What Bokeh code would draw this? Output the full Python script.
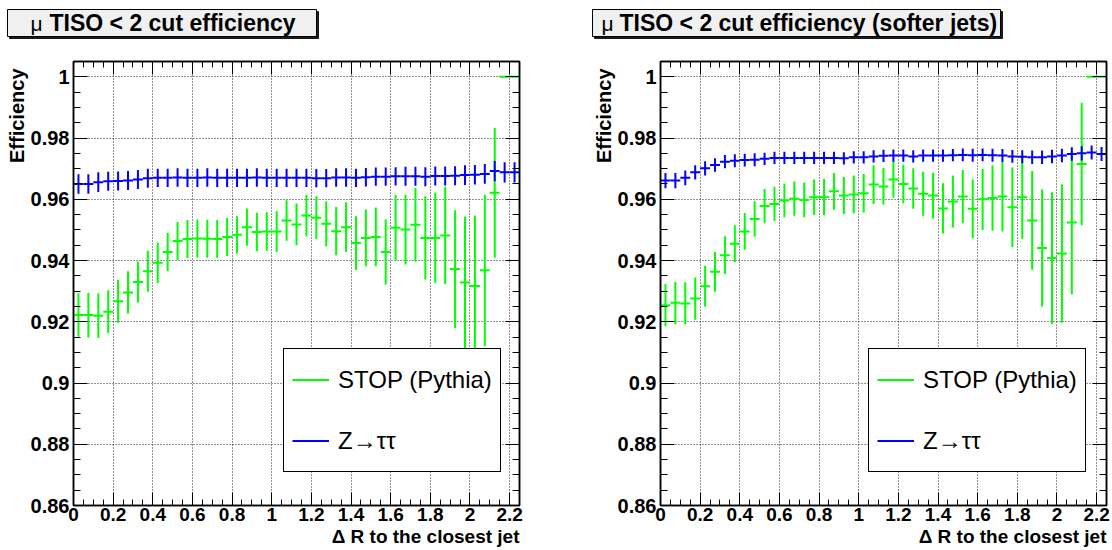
from bokeh.plotting import figure
from bokeh.layouts import row, column
from bokeh.models import (Range1d, FixedTicker, LinearAxis, CustomJSTickFormatter, Title,
                          Legend, LegendItem, ColumnDataSource)
from bokeh.core.properties import value
from bokeh.embed import file_html
from bokeh.resources import INLINE

# ---------------- data ----------------
bin_centers = [0.025, 0.075, 0.125, 0.175, 0.225, 0.275, 0.325, 0.375, 0.425, 0.475,
               0.525, 0.575, 0.625, 0.675, 0.725, 0.775, 0.825, 0.875, 0.925, 0.975,
               1.025, 1.075, 1.125, 1.175, 1.225, 1.275, 1.325, 1.375, 1.425, 1.475,
               1.525, 1.575, 1.625, 1.675, 1.725, 1.775, 1.825, 1.875, 1.925, 1.975,
               2.025, 2.075, 2.125, 2.175, 2.225]
bin_half_width = 0.025

left_stop_eff = [0.9222, 0.9222, 0.9220, 0.9233, 0.9267, 0.9296, 0.9330, 0.9365, 0.9393, 0.9428,
                 0.9464, 0.9470, 0.9472, 0.9471, 0.9470, 0.9477, 0.9484, 0.9509, 0.9493, 0.9495,
                 0.9495, 0.9531, 0.9518, 0.9547, 0.9540, 0.9520, 0.9496, 0.9509, 0.9457, 0.9474,
                 0.9477, 0.9428, 0.9507, 0.9501, 0.9517, 0.9474, 0.9474, 0.9482, 0.9372, 0.9328,
                 0.9317, 0.9368, 0.9621, 1.0, 1.0]
left_stop_err = [0.0071, 0.0073, 0.0073, 0.0070, 0.0070, 0.0069, 0.0067, 0.0067, 0.0066, 0.0063,
                 0.0062, 0.0062, 0.0062, 0.0062, 0.0062, 0.0062, 0.0061, 0.0061, 0.0063, 0.0063,
                 0.0067, 0.0066, 0.0068, 0.0068, 0.0070, 0.0074, 0.0079, 0.0081, 0.0088, 0.0093,
                 0.0096, 0.0106, 0.0107, 0.0114, 0.0121, 0.0136, 0.0147, 0.0159, 0.0192, 0.0216,
                 0.0230, 0.0247, 0.0212, 0.0, 0.0]
left_ztt_eff = [0.9650, 0.9650, 0.9656, 0.9659, 0.9660, 0.9661, 0.9665, 0.9669, 0.9670, 0.9670,
                0.9671, 0.9670, 0.9670, 0.9671, 0.9670, 0.9670, 0.9670, 0.9670, 0.9671, 0.9670,
                0.9670, 0.9670, 0.9670, 0.9670, 0.9669, 0.9669, 0.9671, 0.9671, 0.9670, 0.9672,
                0.9674, 0.9674, 0.9675, 0.9675, 0.9675, 0.9674, 0.9676, 0.9676, 0.9677, 0.9679,
                0.9680, 0.9683, 0.9692, 0.9688, 0.9688]
left_ztt_err = [0.0032, 0.0032, 0.0032, 0.0031, 0.0031, 0.0031, 0.0031, 0.0031, 0.0030, 0.0030,
                0.0030, 0.0030, 0.0030, 0.0030, 0.0030, 0.0030, 0.0030, 0.0030, 0.0030, 0.0030,
                0.0030, 0.0030, 0.0030, 0.0030, 0.0030, 0.0030, 0.0030, 0.0030, 0.0030, 0.0030,
                0.0030, 0.0030, 0.0030, 0.0031, 0.0031, 0.0031, 0.0031, 0.0031, 0.0031, 0.0032,
                0.0032, 0.0032, 0.0033, 0.0033, 0.0033]

right_stop_eff = [0.9254, 0.9262, 0.9260, 0.9276, 0.9316, 0.9363, 0.9417, 0.9455, 0.9495, 0.9536,
                  0.9578, 0.9585, 0.9596, 0.9602, 0.9598, 0.9607, 0.9607, 0.9626, 0.9612, 0.9616,
                  0.9620, 0.9648, 0.9642, 0.9665, 0.9650, 0.9635, 0.9618, 0.9612, 0.9570, 0.9593,
                  0.9609, 0.9569, 0.9600, 0.9604, 0.9609, 0.9574, 0.9607, 0.9531, 0.9441, 0.9408,
                  0.9423, 0.9524, 0.9715, 1.0, 1.0]
right_stop_err = [0.0069, 0.0069, 0.0069, 0.0069, 0.0067, 0.0065, 0.0062, 0.0060, 0.0060, 0.0058,
                  0.0056, 0.0056, 0.0055, 0.0056, 0.0057, 0.0058, 0.0059, 0.0060, 0.0061, 0.0062,
                  0.0063, 0.0063, 0.0060, 0.0060, 0.0063, 0.0066, 0.0072, 0.0075, 0.0082, 0.0085,
                  0.0087, 0.0096, 0.0100, 0.0107, 0.0114, 0.0130, 0.0136, 0.0161, 0.0191, 0.0215,
                  0.0226, 0.0234, 0.0200, 0.0, 0.0]
right_ztt_eff = [0.9661, 0.9661, 0.9670, 0.9688, 0.9701, 0.9712, 0.9723, 0.9726, 0.9728, 0.9729,
                 0.9732, 0.9735, 0.9735, 0.9735, 0.9735, 0.9735, 0.9735, 0.9735, 0.9734, 0.9737,
                 0.9737, 0.9740, 0.9742, 0.9743, 0.9743, 0.9740, 0.9743, 0.9743, 0.9743, 0.9744,
                 0.9745, 0.9744, 0.9745, 0.9744, 0.9743, 0.9740, 0.9739, 0.9737, 0.9737, 0.9740,
                 0.9743, 0.9748, 0.9750, 0.9753, 0.9748]
right_ztt_err = [0.0025, 0.0025, 0.0024, 0.0023, 0.0023, 0.0022, 0.0022, 0.0021, 0.0021, 0.0021,
                 0.0020, 0.0020, 0.0020, 0.0020, 0.0020, 0.0020, 0.0020, 0.0020, 0.0020, 0.0020,
                 0.0020, 0.0020, 0.0020, 0.0020, 0.0020, 0.0020, 0.0020, 0.0020, 0.0020, 0.0020,
                 0.0021, 0.0021, 0.0021, 0.0021, 0.0021, 0.0021, 0.0021, 0.0022, 0.0022, 0.0022,
                 0.0022, 0.0022, 0.0023, 0.0023, 0.0023]

x_major_ticks = [0.0, 0.2, 0.4, 0.6, 0.8, 1.0, 1.2, 1.4, 1.6, 1.8, 2.0, 2.2]
y_major_ticks = [0.86, 0.88, 0.90, 0.92, 0.94, 0.96, 0.98, 1.0]
x_minor_ticks = [round(0.05 * i, 3) for i in range(46)]
y_minor_ticks = [round(0.86 + 0.005 * i, 4) for i in range(30)]

series_labels = ["STOP (Pythia)", "Z\u2192\u03c4\u03c4"]
title_prefix = "\u03bc"
left_title = "TISO < 2 cut efficiency"
right_title = "TISO < 2 cut efficiency (softer jets)"
x_title = "\u0394 R to the closest jet"
y_title = "Efficiency"

GREEN = "#00ff00"
BLUE = "#0000ff"
FONT = "Liberation Sans"
STRIP_H = 45


def err_source(eff, err):
    return ColumnDataSource(dict(
        x=bin_centers,
        x0=[c - bin_half_width for c in bin_centers],
        x1=[c + bin_half_width for c in bin_centers],
        y=eff,
        ylo=[e - d for e, d in zip(eff, err)],
        yhi=[e + d for e, d in zip(eff, err)],
    ))


def make_title_strip(text, box_left, box_right, mu_x, text_x):
    # pixel-space strip holding the ROOT-style boxed title
    t = figure(width=556, height=STRIP_H, x_range=Range1d(0, 556), y_range=Range1d(0, STRIP_H),
               output_backend="svg", toolbar_location=None,
               x_axis_location=None, y_axis_location=None,
               min_border_left=0, min_border_right=0, min_border_top=0, min_border_bottom=0)
    t.outline_line_color = None
    t.grid.visible = False
    t.background_fill_color = "white"
    t.border_fill_color = "white"
    top, bottom = STRIP_H - 9, STRIP_H - 36
    t.quad(left=[box_left + 2], right=[box_right + 2], top=[top - 2], bottom=[bottom - 2],
           fill_color="#1a1a1a", line_color="#1a1a1a")
    t.quad(left=[box_left], right=[box_right], top=[top], bottom=[bottom],
           fill_color="#f0f0f0", line_color="black", line_width=1)
    ymid = STRIP_H - 22.5
    t.text(x=[mu_x], y=[ymid], text=[title_prefix],
           text_font=value(FONT), text_font_style="normal", text_font_size="21px",
           text_align="left", text_baseline="middle", text_color="black")
    t.text(x=[text_x], y=[ymid], text=[text],
           text_font=value(FONT), text_font_style="bold", text_font_size="23px",
           text_align="left", text_baseline="middle", text_color="black")
    return t


def make_panel(stop_eff, stop_err, ztt_eff, ztt_err, border_left, border_right, legend_x):
    p = figure(width=556, height=550 - STRIP_H, x_range=Range1d(0, 2.25),
               y_range=Range1d(0.86, 1.005),
               output_backend="svg", toolbar_location=None,
               min_border_left=border_left, min_border_right=border_right,
               min_border_top=61 - STRIP_H, min_border_bottom=45)
    p.background_fill_color = "white"
    p.border_fill_color = "white"
    p.outline_line_color = "black"
    p.outline_line_width = 1.5

    xticker = FixedTicker(ticks=x_major_ticks, minor_ticks=x_minor_ticks)
    yticker = FixedTicker(ticks=y_major_ticks, minor_ticks=y_minor_ticks)
    fmt = CustomJSTickFormatter(code="return String(Math.round(tick*1000)/1000);")

    for ax, tk, tin, tmin in ((p.xaxis[0], xticker, 13, 6), (p.yaxis[0], yticker, 14, 7)):
        ax.ticker = tk
        ax.formatter = fmt
        ax.major_tick_in = tin
        ax.major_tick_out = 0
        ax.minor_tick_in = tmin
        ax.minor_tick_out = 0
        ax.major_tick_line_color = "black"
        ax.minor_tick_line_color = "black"
        ax.axis_line_color = "black"
        ax.axis_line_width = 1.5
        ax.major_label_text_font = FONT
        ax.major_label_text_font_style = "bold"
        ax.major_label_text_color = "black"
    p.xaxis[0].major_label_text_font_size = "19px"
    p.yaxis[0].major_label_text_font_size = "20px"
    p.xaxis[0].major_label_standoff = 2
    p.yaxis[0].major_label_standoff = 4

    for loc, tk, tin, tmin in (("right", yticker, 14, 7), ("above", xticker, 13, 6)):
        ax = LinearAxis(ticker=tk, major_label_text_font_size="0px", major_label_standoff=0,
                        major_tick_in=tin, major_tick_out=0, minor_tick_in=tmin, minor_tick_out=0,
                        axis_line_color="black", axis_line_width=1.5,
                        major_tick_line_color="black", minor_tick_line_color="black",
                        formatter=CustomJSTickFormatter(code="return '';"))
        p.add_layout(ax, loc)

    p.xgrid.ticker = xticker
    p.ygrid.ticker = yticker
    for g in (p.xgrid, p.ygrid):
        g.grid_line_color = "black"
        g.grid_line_dash = "1 2"
        g.grid_line_width = 1
        g.grid_line_alpha = 0.85

    renderers = []
    for eff, err, col in ((stop_eff, stop_err, GREEN), (ztt_eff, ztt_err, BLUE)):
        src = err_source(eff, err)
        v = p.segment(x0="x", y0="ylo", x1="x", y1="yhi", source=src, line_color=col, line_width=2)
        p.segment(x0="x0", y0="y", x1="x1", y1="y", source=src, line_color=col, line_width=2)
        renderers.append(v)

    legend = Legend(items=[LegendItem(label=series_labels[0], renderers=[renderers[0]]),
                           LegendItem(label=series_labels[1], renderers=[renderers[1]])],
                    location=(legend_x, 33), orientation="vertical",
                    border_line_color="black", border_line_width=1, border_line_alpha=1,
                    background_fill_color="white", background_fill_alpha=1,
                    label_text_font=FONT, label_text_font_size="24px", label_text_color="black",
                    glyph_width=37, glyph_height=45, label_height=45, spacing=16, padding=8,
                    margin=0, label_standoff=9)
    p.add_layout(legend, "center")

    # ROOT-style axis titles: right aligned on x, top aligned on y
    p.add_layout(Title(text=x_title, align="right", text_font=FONT, text_font_style="bold",
                       text_font_size="19px", text_color="black", standoff=0, offset=0),
                 "below")
    p.add_layout(Title(text=y_title, align="right", text_font=FONT, text_font_style="bold",
                       text_font_size="20px", text_color="black", standoff=0, offset=7),
                 "left")
    return p


t1 = make_title_strip(left_title, 7, 316, 30, 49)
t2 = make_title_strip(right_title, 36, 444, 45, 63)
p1 = make_panel(left_stop_eff, left_stop_err, left_ztt_eff, left_ztt_err, 73, 37, 210)
p2 = make_panel(right_stop_eff, right_stop_err, right_ztt_eff, right_ztt_err, 104, 6, 208)

layout = column(row(t1, t2), row(p1, p2))
open("out.html", "w").write(file_html(layout, INLINE))
